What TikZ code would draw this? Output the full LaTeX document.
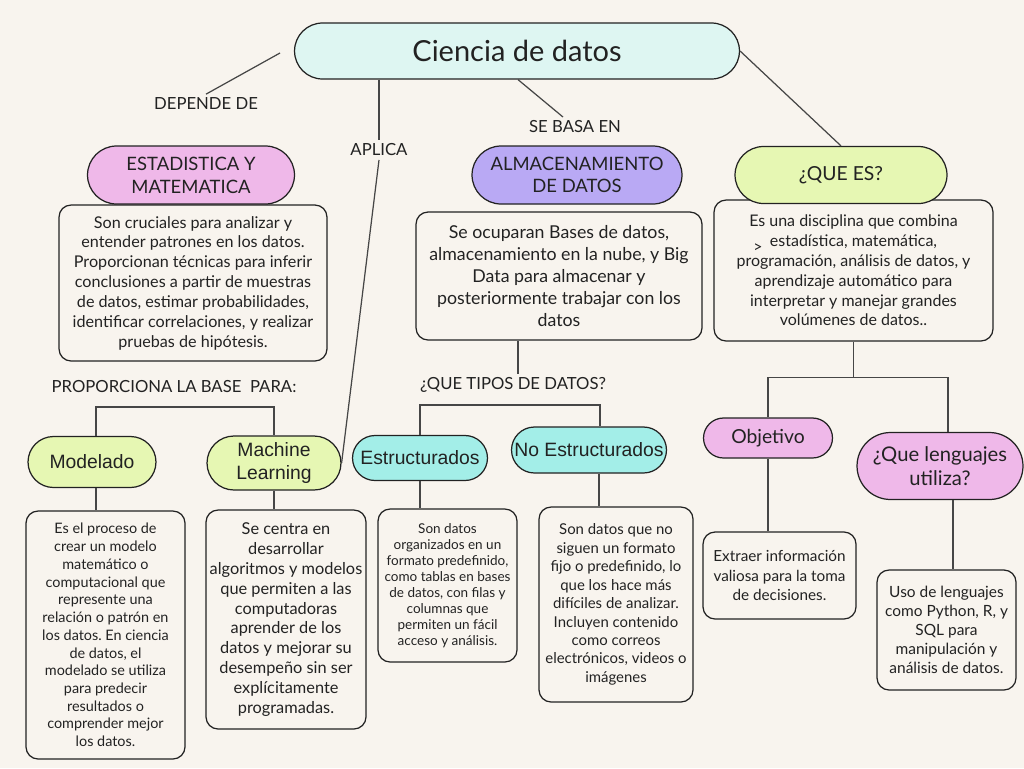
\documentclass[tikz,border=0pt]{standalone}
\usepackage{fontspec}
\setmainfont{Lato}
\newfontfamily\arialfont{Liberation Sans}
\usetikzlibrary{shapes.misc}
\definecolor{paper}{RGB}{248,244,238}
\definecolor{mint}{RGB}{222,246,242}
\definecolor{rosa}{RGB}{239,184,233}
\definecolor{lila}{RGB}{185,169,244}
\definecolor{lima}{RGB}{230,247,179}
\definecolor{turquesa}{RGB}{163,238,232}
\definecolor{ink}{RGB}{34,34,34}
\definecolor{wire}{RGB}{70,70,70}
\frenchspacing
\begin{document}
\begin{tikzpicture}[x=0.02cm, y=-0.02cm,
    pill/.style={rounded rectangle, draw=ink, line width=0.7pt, inner sep=0pt, align=center, text=ink},
    infobox/.style={draw=ink, rounded corners=0.24cm, line width=0.7pt, fill=paper, inner sep=0pt, align=center, text=ink},
    tag/.style={text=ink, font=\fontsize{9.5}{11}\selectfont, inner sep=2pt},
    link/.style={draw=wire, line width=0.7pt}]
    \fill[paper] (0,0) rectangle (1024,768);
    \useasboundingbox (0,0) rectangle (1024,768);

    \node[pill, fill=mint, minimum width=8.9cm, minimum height=1.12cm, font=\fontsize{16.5}{20}\selectfont] (datos) at (517,51) {Ciencia de datos};

    \node[tag] (depende) at (206,104) {DEPENDE DE};
    \node[tag] (aplica) at (379,150) {APLICA};
    \node[tag] (sebasa) at (575,127) {SE BASA EN};
    \node[tag] (proporciona) at (174,387) {PROPORCIONA LA BASE\ \ PARA:};
    \node[tag] (tipos) at (513,385) {¿QUE TIPOS DE DATOS?};

    \node[infobox, minimum width=5.36cm, minimum height=3.12cm, font=\fontsize{9.2}{11.3}\selectfont] (estadtxt) at (193,283) {Son cruciales para analizar y\\entender patrones en los datos.\\Proporcionan técnicas para inferir\\conclusiones a partir de muestras\\de datos, estimar probabilidades,\\identificar correlaciones, y realizar\\pruebas de hipótesis.};
    \node[infobox, minimum width=5.72cm, minimum height=2.56cm, font=\fontsize{10.1}{12.5}\selectfont] (almactxt) at (559,276) {Se ocuparan Bases de datos,\\almacenamiento en la nube, y Big\\Data para almacenar y\\posteriormente trabajar con los\\datos};
    \node[infobox, minimum width=5.58cm, minimum height=2.82cm, font=\fontsize{9.1}{11.3}\selectfont] (queestxt) at (853.5,270.5) {Es una disciplina que combina\\estadística, matemática,\\programación, análisis de datos, y\\aprendizaje automático para\\interpretar y manejar grandes\\volúmenes de datos..};

    \node[pill, fill=rosa, minimum width=4.14cm, minimum height=1.16cm, font=\fontsize{10.5}{13}\selectfont] (estad) at (191,175) {ESTADISTICA Y\\MATEMATICA};
    \node[pill, fill=lila, minimum width=4.2cm, minimum height=1.16cm, font=\fontsize{10.5}{12.5}\selectfont] (almac) at (577,175) {ALMACENAMIENTO\\DE DATOS};
    \node[pill, fill=lima, minimum width=4.24cm, minimum height=1.14cm, font=\fontsize{11}{13}\selectfont] (quees) at (841,175) {¿QUE ES?};
    \node[tag, font=\fontsize{9}{10}\selectfont, inner sep=0pt] (flecha) at (758,248) {>};

    \node[pill, fill=lima, minimum width=2.56cm, minimum height=1.02cm, font=\arialfont\fontsize{11}{13}\selectfont] (modelado) at (92,462) {Modelado};
    \node[pill, fill=lima, minimum width=2.68cm, minimum height=1.08cm, font=\arialfont\fontsize{11}{13}\selectfont] (ml) at (274,463) {Machine\\Learning};
    \node[pill, fill=turquesa, minimum width=2.7cm, minimum height=0.9cm, font=\arialfont\fontsize{11}{13}\selectfont] (estruct) at (420,458) {Estructurados};
    \node[pill, fill=turquesa, minimum width=3.1cm, minimum height=0.92cm, font=\arialfont\fontsize{11}{13}\selectfont] (noestruct) at (589,450) {No Estructurados};
    \node[pill, fill=rosa, minimum width=2.58cm, minimum height=0.8cm, font=\fontsize{11}{13}\selectfont] (objetivo) at (768,438) {Objetivo};
    \node[pill, fill=rosa, minimum width=3.32cm, minimum height=1.34cm, font=\fontsize{11.5}{14}\selectfont] (lenguajes) at (940,466) {¿Que lenguajes\\utiliza?};

    \node[infobox, minimum width=3.18cm, minimum height=4.96cm, font=\fontsize{8.2}{10.1}\selectfont] (modeltxt) at (105.5,635) {Es el proceso de\\crear un modelo\\matemático o\\computacional que\\represente una\\relación o patrón en\\los datos. En ciencia\\de datos, el\\modelado se utiliza\\para predecir\\resultados o\\comprender mejor\\los datos.};
    \node[infobox, minimum width=3.2cm, minimum height=4.38cm, font=\fontsize{9.3}{11.3}\selectfont] (mltxt) at (286,619.5) {Se centra en\\desarrollar\\algoritmos y modelos\\que permiten a las\\computadoras\\aprender de los\\datos y mejorar su\\desempeño sin ser\\explícitamente\\programadas.};
    \node[infobox, minimum width=2.78cm, minimum height=3.06cm, font=\fontsize{7.7}{9.1}\selectfont] (estructtxt) at (447.5,585.5) {Son datos\\organizados en un\\formato predefinido,\\como tablas en bases\\de datos, con filas y\\columnas que\\permiten un fácil\\acceso y análisis.};
    \node[infobox, minimum width=3.08cm, minimum height=3.9cm, font=\fontsize{8.5}{10.5}\selectfont] (noestructtxt) at (616,604.5) {Son datos que no\\siguen un formato\\fijo o predefinido, lo\\que los hace más\\difíciles de analizar.\\Incluyen contenido\\como correos\\electrónicos, videos o\\imágenes};
    \node[infobox, minimum width=3.06cm, minimum height=1.74cm, font=\fontsize{8.7}{11}\selectfont] (objtxt) at (779.5,575.5) {Extraer información\\valiosa para la toma\\de decisiones.};
    \node[infobox, minimum width=2.78cm, minimum height=2.4cm, font=\fontsize{8.8}{10.8}\selectfont] (lengtxt) at (946.5,630) {Uso de lenguajes\\como Python, R, y\\SQL para\\manipulación y\\análisis de datos.};

    \coordinate (deporigen) at (280,53);
    \draw[link] (deporigen) -- (depende.north);
    \draw[link] (aplica.north |- datos.south) -- (aplica.north);
    \draw[link] (aplica.south) -- (ml.east);
    \draw[link] ([xshift=0.02cm]datos.south) -- ([xshift=-0.24cm]sebasa.north);
    \draw[link] (datos.east) -- (quees.north);

    \draw[link] ([xshift=0.08cm]modelado.north) -- ++(0,-29) -| (ml.north);
    \draw[link] ([xshift=0.08cm]modelado.south) -- ([xshift=0.08cm]modelado.south |- modeltxt.north);
    \draw[link] (ml.south) -- (ml.south |- mltxt.north);

    \draw[link] ([xshift=0.1cm]tipos.north) -- ([xshift=0.1cm]tipos.north |- almactxt.south);
    \draw[link] (estruct.north) -- ++(0,-30) -| ([xshift=0.22cm]noestruct.north);
    \draw[link] (estruct.south) -- (estruct.south |- estructtxt.north);
    \draw[link] ([xshift=0.2cm]noestruct.south) -- ([xshift=0.2cm]noestruct.south |- noestructtxt.north);

    \draw[link] (queestxt.south) -- ++(0,36) coordinate (ramal);
    \draw[link] (objetivo.north) |- (ramal) -| ([xshift=0.16cm]lenguajes.north);
    \draw[link] (objetivo.south) -- (objetivo.south |- objtxt.north);
    \draw[link] ([xshift=0.26cm]lenguajes.south) -- ([xshift=0.26cm]lenguajes.south |- lengtxt.north);
\end{tikzpicture}
\end{document}
